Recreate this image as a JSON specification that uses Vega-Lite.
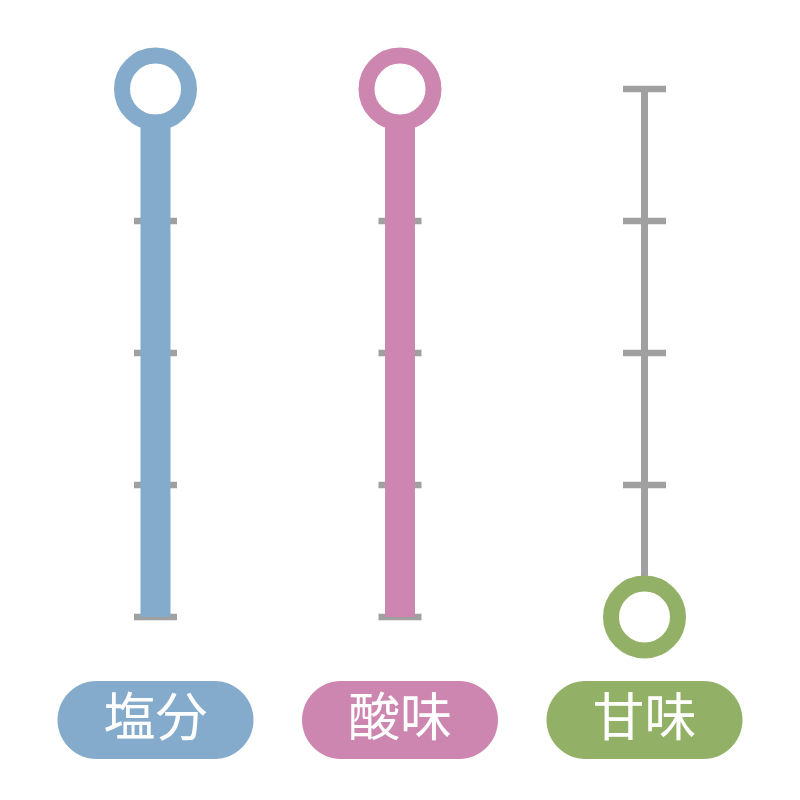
{
  "$schema": "https://vega.github.io/schema/vega-lite/v6.json",
  "width": 800,
  "height": 800,
  "padding": 0,
  "autosize": {"type": "fit", "contains": "padding"},
  "config": {"view": {"stroke": null}},
  "datasets": {
    "tastes": [
      {"name": "塩分", "value": 4},
      {"name": "酸味", "value": 4},
      {"name": "甘味", "value": 0}
    ],
    "levels": [
      {"name": "塩分", "level": 0}, {"name": "塩分", "level": 1}, {"name": "塩分", "level": 2}, {"name": "塩分", "level": 3}, {"name": "塩分", "level": 4},
      {"name": "酸味", "level": 0}, {"name": "酸味", "level": 1}, {"name": "酸味", "level": 2}, {"name": "酸味", "level": 3}, {"name": "酸味", "level": 4},
      {"name": "甘味", "level": 0}, {"name": "甘味", "level": 1}, {"name": "甘味", "level": 2}, {"name": "甘味", "level": 3}, {"name": "甘味", "level": 4}
    ]
  },
  "data": {"name": "tastes"},
  "layer": [
    {
      "data": {"name": "levels"},
      "mark": {"type": "rule", "color": "#a0a0a0", "strokeWidth": 7},
      "encoding": {
        "x": {"field": "name", "type": "nominal", "sort": null, "scale": {"type": "point", "padding": 0.636}, "axis": null},
        "y": {"aggregate": "min", "field": "level", "type": "quantitative", "scale": {"domain": [-1.386, 4.674], "nice": false, "zero": false}, "axis": null},
        "y2": {"aggregate": "max", "field": "level"}
      }
    },
    {
      "data": {"name": "levels"},
      "mark": {"type": "tick", "orient": "horizontal", "color": "#a0a0a0", "size": 43, "thickness": 6.5, "opacity": 1},
      "encoding": {
        "x": {"field": "name", "type": "nominal", "sort": null},
        "y": {"field": "level", "type": "quantitative"}
      }
    },
    {
      "mark": {"type": "bar", "width": 30},
      "encoding": {
        "x": {"field": "name", "type": "nominal", "sort": null},
        "y": {"field": "value", "type": "quantitative"},
        "y2": {"datum": 0},
        "color": {"field": "name", "type": "nominal", "sort": null, "scale": {"domain": ["塩分", "酸味", "甘味"], "range": ["#84abcb", "#cc86b0", "#93b166"]}, "legend": null}
      }
    },
    {
      "mark": {"type": "point", "shape": "circle", "filled": false, "fill": "white", "fillOpacity": 1, "strokeWidth": 16, "size": 4489, "opacity": 1},
      "encoding": {
        "x": {"field": "name", "type": "nominal", "sort": null},
        "y": {"field": "value", "type": "quantitative"},
        "stroke": {"field": "name", "type": "nominal", "sort": null, "scale": {"domain": ["塩分", "酸味", "甘味"], "range": ["#84abcb", "#cc86b0", "#93b166"]}, "legend": null}
      }
    },
    {
      "mark": {"type": "bar", "width": 196, "cornerRadius": 39},
      "encoding": {
        "x": {"field": "name", "type": "nominal", "sort": null},
        "y": {"datum": -0.485, "type": "quantitative"},
        "y2": {"datum": -1.076},
        "color": {"field": "name", "type": "nominal", "sort": null, "legend": null}
      }
    },
    {
      "mark": {"type": "text", "font": "Noto Sans CJK JP", "fontSize": 52, "color": "white", "align": "center", "baseline": "middle"},
      "encoding": {
        "x": {"field": "name", "type": "nominal", "sort": null},
        "y": {"datum": -0.78, "type": "quantitative"},
        "text": {"field": "name", "type": "nominal"}
      }
    }
  ]
}
